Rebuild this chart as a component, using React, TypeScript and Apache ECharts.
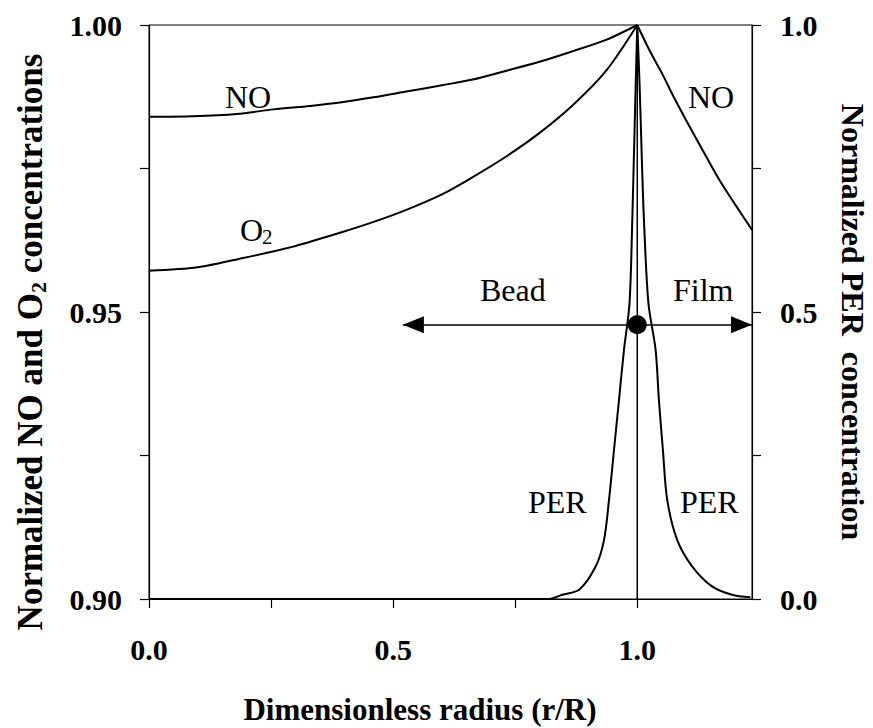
import React, { useEffect, useRef } from 'react';
import * as echarts from 'echarts';

const SERIF = '"Liberation Serif", "Times New Roman", serif';

// NO and O2 inside the bead (left axis), r/R from centre to surface
const beadNoR = [0, 0.09, 0.18, 0.255, 0.33, 0.391, 0.46, 0.527, 0.6, 0.663, 0.73, 0.8, 0.87, 0.936, 1.0];
const beadNo = [0.984, 0.9841, 0.9845, 0.9853, 0.9859, 0.9865, 0.9874, 0.9884, 0.9895, 0.9905, 0.992, 0.9936, 0.9955, 0.9974, 1.0];

const beadO2R = [0, 0.1, 0.193, 0.3, 0.391, 0.46, 0.527, 0.6, 0.663, 0.73, 0.8, 0.87, 0.936, 1.0];
const beadO2 = [0.9572, 0.9578, 0.9594, 0.9615, 0.9638, 0.9657, 0.9678, 0.9705, 0.9735, 0.977, 0.9812, 0.9862, 0.992, 1.0];

// NO in the liquid film outside the bead (left axis)
const filmNoR = [1.0, 1.025, 1.0517, 1.075, 1.0995, 1.13, 1.1676, 1.2, 1.235];
const filmNo = [1.0, 0.9956, 0.9914, 0.9874, 0.9835, 0.9788, 0.9731, 0.9688, 0.9643];

// PER on the right axis, bead side and film side of the surface
const beadPerR = [0, 0.8197, 0.8462, 0.8809, 0.915, 0.932, 0.9422, 0.9524, 0.9626, 0.9728, 0.9841, 0.9898, 0.9933, 0.9967, 1.0];
const beadPer = [0, 0, 0.0075, 0.016, 0.057, 0.103, 0.173, 0.26, 0.347, 0.434, 0.515, 0.66, 0.777, 0.893, 1.0];

const filmPerR = [1.0, 1.0049, 1.009, 1.0137, 1.0229, 1.0376, 1.0443, 1.0525, 1.0613, 1.0817, 1.1123, 1.1532, 1.194, 1.2316];
const filmPer = [1.0, 0.893, 0.777, 0.66, 0.515, 0.434, 0.347, 0.26, 0.173, 0.103, 0.057, 0.022, 0.0075, 0.003];

// bead surface and the bead / film arrow
const surfaceR = 1.0;
const arrowLevel = 0.478;
const arrowFromR = 0.52;
const arrowToR = 1.235;

// axes
const xRange = [0, 1.235];
const xTickValues = [0, 0.25, 0.5, 0.75, 1.0];
const xLabelValues = [0, 0.5, 1.0];
const xLabelTexts = ['0.0', '0.5', '1.0'];

const leftRange = [0.9, 1.0];
const leftTickValues = [0.9, 0.925, 0.95, 0.975, 1.0];
const leftLabelValues = [0.9, 0.95, 1.0];
const leftLabelTexts = ['0.90', '0.95', '1.00'];

const rightRange = [0, 1];
const rightTickValues = [0, 0.25, 0.5, 0.75, 1.0];
const rightLabelValues = [0, 0.5, 1.0];
const rightLabelTexts = ['0.0', '0.5', '1.0'];

const zip = (xs: number[], ys: number[]) => xs.map((x, i) => [x, ys[i]]);

const lookup = (values: number[], texts: string[]) => (v: number) => {
  const i = values.findIndex((t) => Math.abs(t - v) < 1e-6);
  return i < 0 ? '' : texts[i];
};

const tickLabel = {
  fontFamily: SERIF,
  fontWeight: 'bold' as const,
  fontSize: 30,
  color: '#000',
};

const curve = (data: number[][], yAxisIndex: number) => ({
  type: 'line' as const,
  data,
  yAxisIndex,
  showSymbol: false,
  symbol: 'none',
  smooth: 0.3,
  silent: true,
  lineStyle: { color: '#000', width: 2 },
  z: 3,
});

const annotation = (text: string, x: number, y: number, size = 32) => ({
  type: 'text' as const,
  x,
  y,
  silent: true,
  style: {
    text,
    fill: '#000',
    fontFamily: SERIF,
    fontSize: size,
    align: 'left' as const,
    verticalAlign: 'middle' as const,
  },
});

const buildOption = () => ({
  backgroundColor: '#fff',
  animation: false,
  grid: {
    left: 149,
    right: 121,
    top: 25,
    bottom: 129,
    show: true,
    borderColor: '#000',
    borderWidth: 1,
    backgroundColor: 'transparent',
    containLabel: false,
    outerBoundsMode: 'none',
  },
  xAxis: {
    type: 'value',
    min: xRange[0],
    max: xRange[1],
    interval: 0.25,
    axisLine: { show: true, onZero: false, lineStyle: { color: '#000', width: 1.2 } },
    axisTick: { show: true, length: 9, customValues: xTickValues, lineStyle: { color: '#000', width: 1.2 } },
    axisLabel: {
      ...tickLabel,
      margin: 35,
      customValues: xLabelValues,
      formatter: lookup(xLabelValues, xLabelTexts),
    },
    splitLine: { show: false },
  },
  yAxis: [
    {
      type: 'value',
      position: 'left',
      min: leftRange[0],
      max: leftRange[1],
      interval: 0.025,
      axisLine: { show: true, onZero: false, lineStyle: { color: '#000', width: 1.2 } },
      axisTick: { show: true, length: 9, customValues: leftTickValues, lineStyle: { color: '#000', width: 1.2 } },
      axisLabel: {
        ...tickLabel,
        margin: 27,
        customValues: leftLabelValues,
        formatter: lookup(leftLabelValues, leftLabelTexts),
      },
      splitLine: { show: false },
    },
    {
      type: 'value',
      position: 'right',
      min: rightRange[0],
      max: rightRange[1],
      interval: 0.25,
      axisLine: { show: true, onZero: false, lineStyle: { color: '#000', width: 1.2 } },
      axisTick: { show: true, length: 9, customValues: rightTickValues, lineStyle: { color: '#000', width: 1.2 } },
      axisLabel: {
        ...tickLabel,
        margin: 28,
        customValues: rightLabelValues,
        formatter: lookup(rightLabelValues, rightLabelTexts),
      },
      splitLine: { show: false },
    },
  ],
  series: [
    curve(zip(beadNoR, beadNo), 0),
    curve(zip(beadO2R, beadO2), 0),
    curve(zip(filmNoR, filmNo), 0),
    curve(zip(beadPerR, beadPer), 1),
    curve(zip(filmPerR, filmPer), 1),
    {
      type: 'line',
      yAxisIndex: 1,
      data: [
        [surfaceR, rightRange[0]],
        [surfaceR, rightRange[1]],
      ],
      showSymbol: false,
      symbol: 'none',
      silent: true,
      lineStyle: { color: '#000', width: 1.5 },
      z: 3,
    },
    {
      type: 'scatter',
      yAxisIndex: 1,
      data: [[surfaceR, arrowLevel]],
      symbol: 'circle',
      symbolSize: 19,
      silent: true,
      itemStyle: { color: '#000', opacity: 1 },
      z: 5,
      markLine: {
        silent: true,
        animation: false,
        symbol: ['triangle', 'triangle'],
        symbolSize: [17, 21],
        symbolOffset: [
          [0, 10.5],
          [0, 10.5],
        ],
        label: { show: false },
        itemStyle: { color: '#000', opacity: 1 },
        lineStyle: { color: '#000', width: 1.6, type: 'solid', opacity: 1 },
        emphasis: { disabled: true },
        data: [[{ coord: [arrowFromR, arrowLevel] }, { coord: [arrowToR, arrowLevel] }]],
      },
    },
  ],
  graphic: [
    annotation('NO', 225, 97),
    annotation('O', 240, 230),
    annotation('2', 262, 237, 21),
    annotation('NO', 688, 97),
    annotation('Bead', 480, 290),
    annotation('Film', 673, 290),
    annotation('PER', 528, 502),
    annotation('PER', 680, 502),
    {
      type: 'text',
      x: 420,
      y: 709,
      silent: true,
      style: {
        text: 'Dimensionless radius (r/R)',
        fill: '#000',
        fontFamily: SERIF,
        fontWeight: 'bold',
        fontSize: 31,
        align: 'center',
        verticalAlign: 'middle',
      },
    },
    {
      type: 'text',
      x: 30,
      y: 342,
      rotation: Math.PI / 2,
      silent: true,
      style: {
        text: 'Normalized NO and O{sub|2} concentrations',
        fill: '#000',
        fontFamily: SERIF,
        fontWeight: 'bold',
        fontSize: 35,
        align: 'center',
        verticalAlign: 'middle',
        rich: {
          sub: {
            fontFamily: SERIF,
            fontWeight: 'bold',
            fontSize: 22,
            fill: '#000',
            padding: [16, 0, 0, 0],
          },
        },
      },
    },
    {
      type: 'text',
      x: 853,
      y: 322,
      rotation: -Math.PI / 2,
      silent: true,
      style: {
        text: 'Normalized PER\u00a0 concentration',
        fill: '#000',
        fontFamily: SERIF,
        fontWeight: 'bold',
        fontSize: 32,
        align: 'center',
        verticalAlign: 'middle',
      },
    },
  ],
});

export default function App() {
  const ref = useRef<HTMLDivElement>(null);
  useEffect(() => {
    if (!ref.current) return;
    const chart = echarts.init(ref.current, null, { renderer: 'svg' });
    chart.setOption(buildOption() as any);
    return () => chart.dispose();
  }, []);
  return (
    <div
      ref={ref}
      style={{ position: 'absolute', left: 0, top: 0, width: 873, height: 728, background: '#fff' }}
    />
  );
}
